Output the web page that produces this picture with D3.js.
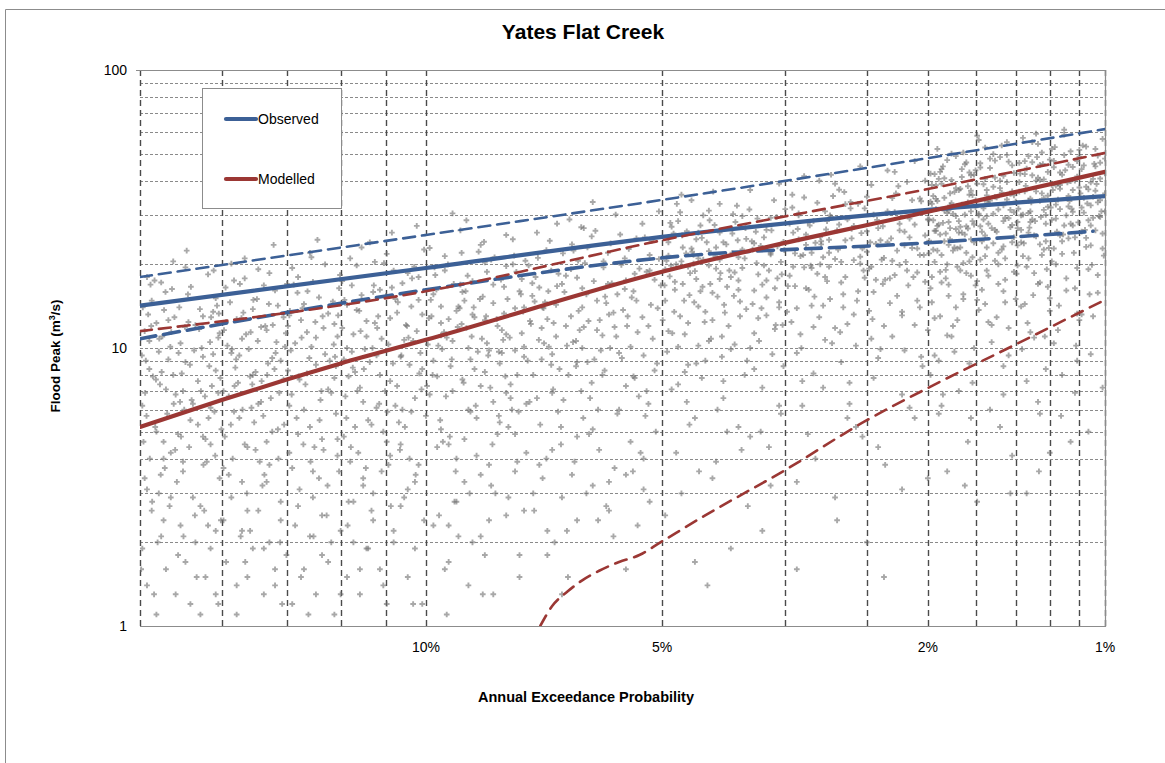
<!DOCTYPE html>
<html>
<head>
<meta charset="utf-8">
<script src="https://cdn.jsdelivr.net/npm/d3@7"></script>
<style>
  html, body { margin: 0; padding: 0; background: #fff; }
  svg { display: block; font-family: "Liberation Sans", Arial, sans-serif; }
</style>
</head>
<body>
<svg id="chart" width="1165" height="763"></svg>
<script>
// ---- Chart text ----
const chartTitle = "Yates Flat Creek";
const xTitle = "Annual Exceedance Probability";
const legendNames = ["Observed", "Modelled"];

// ---- Axes ----
const yTickValues = [1, 10, 100];
const xTickAep = [10, 5, 2, 1];                               // labelled AEP (%)
const xGridAri = [5, 6, 7, 8, 9, 10, 20, 30, 40, 50, 60, 70, 80, 90, 100]; // vertical grid (ARI, years)

// ---- Flood frequency curves: AEP (%) and peak (m3/s) ----
const obsAep   = [20, 10, 5, 2, 1];
const obsMean  = [14.2, 19.4, 25.1, 31.4, 35.2];
const obsUpAep = [20, 10, 5, 2, 1];
const obsUpper = [18.0, 25.5, 34.1, 48.2, 61.3];
const obsLoAep = [20, 10, 5, 2, 1.05];
const obsLower = [10.8, 16.2, 21.1, 23.9, 26.3];

const modAep   = [20, 16.67, 14.29, 12.5, 10, 5, 2, 1];
const modMean  = [5.2, 6.5, 7.7, 8.8, 10.7, 18.8, 30.9, 43.0];
const modUpAep = [20, 10, 5, 2, 1];
const modUpper = [11.5, 16.0, 24.4, 37.3, 50.3];
const modLoAep = [7.25, 7.0, 6.69, 6.4, 6.08, 5.72, 5.37, 5.04, 4.34, 3.33, 2.5, 2.0, 1.43, 1.0];
const modLower = [1.0, 1.18, 1.33, 1.46, 1.58, 1.70, 1.80, 1.99, 2.51, 3.64, 5.5, 7.18, 10.3, 14.9];

// ---- Simulated flood peaks: "AEP(%) peak(m3/s)" pairs ----
const simBand1 = "19.9 6.2,19.8 11.5,19.7 3.1,19.6 8.4,19.5 14.8,19.4 1.3,19.3 5.0,19.2 9.7,19.1 17.2,19.0 2.4,18.9 7.1,18.8 12.6,18.7 4.2,18.6 20.5,18.5 6.8,18.4 1.8,18.3 10.4,18.2 3.6,18.1 8.9,18.0 15.6,17.9 5.5,17.8 2.9,17.7 12.1,17.6 7.6,17.5 1.1,17.4 9.3,17.3 4.7,17.2 18.4,17.1 6.1,17.0 13.5,16.9 2.2,16.8 10.9,19.85 4.6,19.65 13.2,19.45 7.9,19.25 2.0,19.05 11.0,18.85 5.8,18.65 16.3,18.45 3.3,18.25 8.1,18.05 22.4,17.85 6.5,17.65 1.5,17.45 10.0,17.25 3.9,17.05 7.3,16.85 14.2,19.75 9.0,19.35 5.2,18.95 3.7,18.55 12.9,18.15 6.0,17.75 9.8,17.35 2.6,16.95 5.9,19.55 16.9,19.15 7.4,18.75 2.7,18.35 14.0,17.95 4.4,17.55 11.7,17.15 8.6,16.75 3.4,19.95 1.6,19.0 4.0,18.1 19.5,17.0 9.5,16.8 6.9,19.6 10.6,18.6 8.0,17.6 5.3,16.9 15.1,19.3 12.3,18.4 4.9,17.4 13.0,16.75 11.3,19.2 3.0,18.2 7.0,17.2 2.3,16.8 1.2,19.7 18.0,18.8 9.1,17.8 6.3,17.1 4.5,16.9 8.3";
const simBand2 = "16.6 7.0,16.5 12.4,16.4 3.5,16.3 9.6,16.2 17.5,16.1 1.4,16.0 5.6,15.9 10.8,15.8 21.0,15.7 2.6,15.6 7.9,15.5 13.8,15.4 4.3,15.3 19.2,15.2 6.4,15.1 1.9,15.0 11.6,14.9 3.8,14.8 9.2,14.7 16.1,14.6 5.1,14.5 2.8,14.4 12.9,16.55 4.8,16.35 14.6,16.15 8.5,15.95 2.1,15.75 11.2,15.55 6.1,15.35 15.0,15.15 3.2,14.95 8.8,14.75 23.5,14.55 6.9,14.45 1.2,16.45 10.2,16.25 4.0,16.05 7.5,15.85 13.4,15.65 9.9,15.45 5.4,15.25 3.9,15.05 12.0,14.85 6.6,14.65 10.5,16.6 2.4,16.2 5.9,15.8 17.8,15.4 8.2,15.0 4.6,14.6 14.2,16.4 6.7,16.0 9.4,15.6 2.2,15.2 11.9,14.8 5.0,14.4 7.7,16.3 20.1,15.9 3.3,15.5 8.0,15.1 16.8,14.7 1.6,14.35 10.1,16.1 12.7,15.7 4.4,15.3 6.3,14.9 18.6,14.5 9.0";
const simBand3 = "14.25 8.3,14.2 13.1,14.1 3.7,14.0 10.4,13.9 18.0,13.8 1.5,13.7 6.0,13.6 11.4,13.5 22.0,13.4 2.9,13.3 8.7,13.2 15.2,13.1 4.7,13.0 20.0,12.9 7.1,12.8 2.0,12.7 12.2,12.6 4.1,14.15 9.8,14.05 16.9,13.95 5.6,13.85 3.1,13.75 13.9,13.65 7.4,13.55 1.1,13.45 10.1,13.35 4.4,13.25 24.5,13.15 6.5,13.05 11.8,12.95 2.5,12.85 9.0,12.75 14.7,12.65 5.8,12.55 16.4,14.2 6.2,14.0 2.3,13.8 12.6,13.6 8.1,13.4 17.3,13.2 3.4,13.0 9.5,12.8 6.9,12.6 11.0,14.1 19.4,13.9 4.9,13.7 14.4,13.5 5.2,13.3 10.9,13.1 1.8,12.9 13.3,12.7 7.8,12.55 3.6,14.25 12.0,13.85 7.7,13.45 21.2,13.05 4.3,12.65 8.6,12.5 1.3";
const simBand4 = "12.4 9.1,12.3 14.3,12.2 3.9,12.1 11.2,12.0 19.8,11.9 1.6,11.8 6.4,11.7 12.5,11.6 24.0,11.5 3.0,11.4 9.4,11.3 16.2,11.2 5.0,11.1 21.8,11.0 7.6,10.9 2.2,10.8 13.4,10.7 4.5,10.6 10.7,10.5 18.6,10.4 5.9,10.3 3.3,10.2 14.9,10.1 8.4,12.35 6.7,12.15 16.8,11.95 4.2,11.75 9.9,11.55 2.6,11.35 13.0,11.15 7.0,10.95 26.0,10.75 5.4,10.55 12.1,10.35 1.2,10.15 9.6,12.45 11.8,12.25 2.8,12.05 8.2,11.85 15.5,11.65 5.5,11.45 20.4,11.25 3.6,11.05 10.3,10.85 6.2,10.65 17.1,10.45 4.0,10.25 11.5,10.05 22.6,12.4 4.8,12.0 13.7,11.6 8.9,11.2 1.4,10.8 7.3,10.4 14.1,10.0 5.7,12.2 21.0,11.8 3.4,11.4 6.1,11.0 12.8,10.6 2.9,10.2 18.0,12.3 10.0,11.9 7.2,11.5 15.9,11.1 4.6,10.7 9.3,10.3 6.6,12.1 2.0,11.7 11.0,11.3 8.0,10.9 19.0,10.5 3.1,10.1 13.2,12.45 17.4,12.05 5.2,11.65 1.9,11.25 10.8,10.85 15.0,10.45 8.7,10.05 2.4,12.25 7.9,11.85 23.0,11.45 12.3,11.05 3.8,10.65 6.0,10.25 27.5,12.15 9.7,11.55 5.3,10.95 16.5,10.35 10.6";
const simBand5 = "9.95 10.3,9.8 15.6,9.7 4.4,9.6 12.3,9.5 21.4,9.4 1.7,9.3 7.0,9.2 13.6,9.1 26.5,9.0 3.3,8.9 10.0,8.8 17.4,8.7 5.6,8.6 23.5,8.5 8.2,8.4 2.4,8.3 14.5,8.2 4.9,8.1 11.6,8.0 19.7,7.9 6.6,7.8 3.6,7.7 16.0,7.6 9.3,9.9 6.8,9.75 18.3,9.55 4.6,9.45 10.9,9.25 2.8,9.15 14.1,9.05 7.7,8.95 28.8,8.85 5.9,8.75 12.9,8.55 1.3,8.45 10.4,8.35 20.8,8.25 3.0,8.15 8.8,8.05 16.6,7.95 5.2,7.85 24.6,7.75 3.9,7.65 11.3,7.55 6.3,9.85 13.0,9.65 2.5,9.35 8.6,9.1 16.9,8.9 6.0,8.65 22.2,8.4 3.8,8.2 12.0,7.9 7.4,7.7 1.5,9.9 22.9,9.6 5.1,9.3 10.6,9.0 14.8,8.7 4.1,8.45 18.8,8.1 9.6,7.8 13.9,7.55 4.2,9.7 7.9,9.4 12.7,9.15 2.1,8.85 9.1,8.55 15.3,8.3 6.4,8.0 25.5,7.75 8.0,9.5 19.0,9.2 4.0,8.95 11.8,8.6 7.3,8.35 3.2,8.05 13.3,7.85 20.0,7.6 10.1,9.8 9.0,9.45 1.1,9.05 15.9,8.75 8.4,8.5 12.6,8.15 5.4,7.95 2.9,7.65 17.7,9.3 30.5,8.8 2.0,8.4 9.8,8.0 6.9,7.6 14.0,9.6 11.1,9.0 4.7,8.5 20.3";
const simBand6 = "7.45 12.2,7.35 18.0,7.25 5.3,7.15 14.6,7.05 24.3,6.95 2.0,6.85 8.4,6.75 15.9,6.65 29.0,6.55 3.9,6.45 11.6,6.35 20.2,6.25 6.6,6.15 26.4,6.05 9.8,5.95 2.7,5.85 17.1,5.75 5.8,5.65 13.7,5.55 22.7,5.45 7.8,5.35 4.2,5.25 18.8,5.15 10.8,5.05 31.0,7.4 8.0,7.3 21.1,7.2 3.4,7.1 12.7,7.0 6.9,6.9 16.7,6.8 1.3,6.7 10.2,6.6 23.6,6.5 4.8,6.4 14.0,6.3 8.9,6.2 33.5,6.1 6.0,6.0 19.5,5.9 3.3,5.8 11.9,5.7 25.6,5.6 7.3,5.5 15.2,5.4 2.3,5.3 9.4,5.2 21.6,5.1 5.0,7.42 15.4,7.22 9.1,7.02 19.0,6.82 4.5,6.62 13.0,6.42 27.2,6.22 7.5,6.02 11.1,5.82 2.1,5.62 16.3,5.42 24.8,5.22 6.3,7.32 26.0,7.12 4.0,6.92 11.0,6.72 18.2,6.52 8.6,6.32 3.0,6.12 14.8,5.92 22.0,5.72 9.6,5.52 4.6,5.32 12.9,5.12 17.6,7.38 2.6,7.18 13.9,6.98 7.1,6.78 21.9,6.58 10.5,6.38 5.6,6.18 17.4,5.98 8.3,5.78 30.2,5.58 12.0,5.38 6.7,5.18 14.3,7.28 10.7,7.08 16.0,6.88 5.9,6.68 1.5,6.48 20.6,6.28 12.5,6.08 4.3,5.88 10.0,5.68 19.9,5.48 3.6,5.28 25.0,5.08 8.8,7.48 6.4,6.9 28.0,6.4 16.4,5.9 13.2,5.4 11.4,5.05 20.9,7.1 1.8,6.6 3.5,6.1 2.4,5.6 1.6,5.2 2.8,6.3 23.0,5.75 15.6,5.25 7.0,7.0 9.5,6.5 17.9,5.95 14.5,5.45 18.5";
const simBand7 = "4.95 14.8,4.9 21.5,4.85 7.1,4.8 17.3,4.75 28.6,4.7 3.0,4.65 11.2,4.6 19.6,4.55 34.0,4.5 5.6,4.45 14.1,4.4 24.9,4.35 9.0,4.3 31.2,4.25 12.6,4.2 3.9,4.15 20.8,4.1 7.6,4.05 16.6,4.0 26.9,3.95 10.3,3.9 5.2,3.85 22.6,3.8 13.8,3.75 37.0,3.7 8.4,3.65 18.4,3.6 2.2,3.55 15.2,3.5 29.4,3.45 11.7,3.4 6.2,3.35 24.1,4.92 9.7,4.82 25.8,4.72 13.0,4.62 6.4,4.52 20.1,4.42 16.0,4.32 1.4,4.22 27.7,4.12 11.0,4.02 19.0,3.92 32.5,3.82 8.0,3.72 14.4,3.62 23.3,3.52 4.4,3.42 17.8,3.36 12.1,4.88 18.1,4.78 4.2,4.68 23.0,4.58 15.5,4.48 8.8,4.38 30.0,4.28 17.0,4.18 6.0,4.08 13.4,3.98 22.0,3.88 14.7,3.78 2.7,3.68 26.2,3.58 19.8,3.48 9.5,3.38 20.4,4.9 11.5,4.7 35.6,4.5 18.9,4.3 10.6,4.1 24.0,3.9 17.5,3.7 11.3,3.5 21.7,3.4 39.0,4.85 27.3,4.65 8.2,4.45 21.0,4.25 15.8,4.05 5.0,3.85 29.8,3.65 12.8,3.45 16.4,4.95 2.5,4.6 12.3,4.4 7.8,4.2 19.3,4.0 9.9,3.8 24.7,3.6 7.2,3.4 14.0,4.8 16.2,4.55 22.8,4.35 13.5,4.15 33.0,3.95 18.7,3.75 10.0,3.55 26.6,3.35 8.6,4.75 10.1,4.5 1.7,4.25 3.4,4.0 1.9,3.75 4.8,3.5 3.2,3.38 5.8,4.7 20.5,4.3 22.3,3.9 21.2,3.6 16.9,4.95 19.2,4.15 17.7,3.7 23.8,4.45 26.0,3.55 13.1";
const simBand8 = "3.28 18.2,3.24 26.0,3.2 9.6,3.16 21.4,3.12 34.8,3.08 4.9,3.04 14.2,3.0 23.9,2.96 40.0,2.92 7.2,2.88 17.4,2.84 29.6,2.8 11.8,2.76 37.1,2.72 15.6,2.68 5.6,2.64 24.8,2.6 10.2,2.56 20.1,2.52 31.8,2.48 13.6,2.44 7.8,2.4 27.0,2.36 17.0,2.32 43.5,2.28 11.0,2.24 22.4,2.2 3.1,2.16 19.0,2.12 34.0,2.08 14.8,2.04 8.6,3.26 12.4,3.18 30.5,3.1 16.4,3.02 8.1,2.94 24.2,2.86 19.6,2.78 2.4,2.7 32.9,2.62 13.2,2.54 22.8,2.46 38.6,2.38 9.9,2.3 17.8,2.22 28.0,2.14 6.1,2.06 21.6,3.22 21.9,3.14 6.2,3.06 27.6,2.98 18.5,2.9 10.7,2.82 35.2,2.74 20.4,2.66 7.5,2.58 16.0,2.5 26.3,2.42 17.6,2.34 3.8,2.26 30.8,2.18 23.4,2.1 12.1,2.02 25.4,3.2 13.9,3.12 41.5,3.04 22.0,2.96 12.9,2.88 28.6,2.8 20.9,2.72 14.0,2.64 26.8,2.56 45.0,2.48 19.3,2.4 9.2,2.32 24.0,2.24 15.4,2.16 39.6,2.08 18.7,2.0 29.0,3.25 32.0,3.15 10.0,3.05 19.8,2.95 25.1,2.85 15.0,2.75 11.4,2.65 33.5,2.55 25.9,2.45 12.7,2.35 21.1,2.25 36.0,2.15 16.8,2.05 9.3,3.3 16.7,3.1 23.5,2.9 31.0,2.7 18.0,2.5 22.2,2.3 14.5,2.1 27.8,3.0 4.0,2.8 2.9,2.6 5.2,2.4 4.4,2.2 6.8,2.0 3.4,3.2 1.6,2.5 2.0,2.35 1.5,3.08 28.4,2.86 24.5,2.62 20.7,2.44 30.2,2.22 19.9,2.06 34.5,3.18 24.6,2.92 21.2,2.68 29.0,2.42 23.7,2.18 26.2,2.02 17.3,3.12 19.5,2.78 26.5,2.52 17.9,2.28 20.6,2.1 47.0,2.84 42.0,2.36 27.4,2.12 22.9,3.02 11.9,2.74 8.9,2.46 10.8,2.2 13.1,2.0 11.6";
const simBand9 = "1.99 24.3,1.97 33.0,1.95 12.8,1.93 27.5,1.91 43.0,1.89 6.8,1.87 19.1,1.85 31.2,1.83 50.0,1.81 9.7,1.79 22.8,1.77 37.4,1.75 15.6,1.73 46.5,1.71 20.5,1.69 7.5,1.67 32.1,1.65 13.7,1.63 26.2,1.61 40.6,1.59 18.2,1.57 10.5,1.55 35.0,1.53 22.0,1.51 53.5,1.49 14.6,1.47 29.3,1.45 4.1,1.44 25.0,1.98 16.4,1.94 38.5,1.9 21.6,1.86 11.1,1.82 30.4,1.78 26.0,1.74 3.2,1.7 41.8,1.66 17.4,1.62 29.0,1.58 48.0,1.54 12.9,1.5 23.2,1.46 35.8,1.96 28.8,1.92 9.0,1.88 34.7,1.84 24.6,1.8 14.0,1.76 44.0,1.72 26.9,1.68 10.0,1.64 20.8,1.6 33.6,1.56 23.8,1.52 5.2,1.48 39.5,1.44 30.8,1.97 18.0,1.93 52.0,1.89 28.2,1.85 16.9,1.81 36.4,1.77 27.3,1.73 18.6,1.69 35.5,1.65 56.0,1.61 25.4,1.57 12.1,1.53 31.5,1.49 21.0,1.45 45.4,1.95 42.2,1.91 13.0,1.87 25.8,1.83 33.2,1.79 19.6,1.75 15.0,1.71 42.8,1.67 34.0,1.63 16.2,1.59 28.0,1.55 47.2,1.51 22.6,1.47 11.8,1.99 21.9,1.94 31.6,1.9 39.0,1.85 23.5,1.8 29.8,1.75 20.2,1.7 36.8,1.65 30.0,1.6 19.0,1.55 26.6,1.5 32.6,1.45 27.7,1.98 8.0,1.92 5.8,1.86 3.6,1.78 7.0,1.72 4.6,1.66 2.8,1.58 6.0,1.5 8.6,1.46 3.0,1.96 35.2,1.88 40.8,1.8 37.6,1.72 38.2,1.64 44.6,1.56 38.0,1.48 49.5,1.93 22.4,1.84 27.0,1.76 32.8,1.68 24.0,1.6 37.0,1.52 40.0,1.44 18.8,1.95 26.4,1.86 20.0,1.77 23.0,1.69 28.6,1.61 21.4,1.53 17.0,1.45 36.6,1.9 17.2,1.82 12.0,1.74 25.6,1.66 14.9,1.58 33.9,1.5 16.0";
const simBand10 = "1.42 27.0,1.41 36.5,1.4 14.1,1.39 30.2,1.38 47.0,1.37 7.6,1.36 21.0,1.35 34.5,1.34 55.0,1.33 10.9,1.32 25.2,1.31 41.0,1.3 17.2,1.29 50.5,1.28 22.6,1.27 8.4,1.26 35.3,1.25 15.1,1.24 28.9,1.23 44.7,1.22 20.0,1.21 11.6,1.2 38.6,1.19 24.2,1.18 58.5,1.17 16.1,1.16 32.3,1.15 4.6,1.14 27.6,1.13 40.0,1.12 19.4,1.11 48.8,1.1 13.2,1.09 30.7,1.08 23.1,1.07 37.2,1.06 9.5,1.05 29.4,1.04 52.0,1.03 18.3,1.02 34.0,1.01 25.8,1.0 42.5,1.425 18.5,1.405 42.4,1.385 23.8,1.365 12.3,1.345 33.4,1.325 28.6,1.305 3.6,1.285 45.9,1.265 19.2,1.245 32.0,1.225 52.8,1.205 14.2,1.185 25.6,1.165 39.4,1.145 31.7,1.125 10.2,1.105 36.0,1.085 26.6,1.065 15.6,1.045 46.0,1.025 29.8,1.005 21.5,1.415 31.7,1.395 9.9,1.375 38.3,1.355 27.1,1.335 15.5,1.315 48.6,1.295 29.6,1.275 11.0,1.255 22.9,1.235 37.0,1.215 26.2,1.195 5.7,1.175 43.6,1.155 33.8,1.135 22.0,1.115 28.3,1.095 53.5,1.075 33.1,1.055 19.9,1.035 38.9,1.015 31.0,1.42 19.8,1.39 57.0,1.36 30.6,1.33 18.6,1.3 40.2,1.27 30.1,1.24 20.5,1.21 39.0,1.18 61.0,1.15 28.0,1.12 13.3,1.09 34.7,1.06 23.4,1.03 49.2,1.0 36.0,1.41 46.3,1.38 14.4,1.35 28.4,1.32 36.6,1.29 21.6,1.26 16.6,1.23 47.1,1.2 37.4,1.17 17.8,1.14 30.9,1.11 51.6,1.08 24.9,1.05 13.0,1.02 40.7,1.4 24.0,1.34 41.8,1.28 34.6,1.22 32.8,1.16 24.8,1.1 44.0,1.04 26.5,1.37 3.0,1.31 6.4,1.25 4.2,1.19 8.0,1.13 6.9,1.07 5.0,1.01 7.2,1.36 26.0,1.26 43.0,1.16 45.6,1.06 32.6,1.3 23.6";
const simBand11 = "19.92 9.4,19.72 5.7,19.52 12.0,19.32 7.7,19.12 3.5,18.92 15.9,18.72 10.1,18.52 4.3,18.32 6.4,18.12 11.9,17.92 8.7,17.72 2.5,17.52 13.8,17.32 6.7,17.12 10.5,16.92 4.1,16.72 7.8,16.52 16.5,16.32 5.3,16.12 9.1,15.92 12.8,15.72 3.0,15.52 7.4,15.32 10.6,15.12 5.7,14.92 14.4,14.72 8.4,14.52 2.0,14.32 11.3,14.12 6.8,13.92 15.8,13.72 4.5,13.52 9.2,13.32 12.4,13.12 7.0,12.92 3.2,12.72 10.3,12.52 18.3,12.32 5.6,12.12 8.5,11.92 13.6,11.72 3.7,11.52 10.0,11.32 6.3,11.12 15.4,10.92 8.8,10.72 4.3,10.52 12.0,10.32 19.6,10.12 7.1,19.88 14.0,19.48 2.8,19.08 8.2,18.68 11.4,18.28 4.8,17.88 16.6,17.48 7.0,17.08 12.9,16.68 5.1,16.28 9.9,15.88 6.0,15.48 14.9,15.08 3.5,14.68 9.6,14.28 17.0,13.88 7.9,13.48 3.9,13.08 13.0,12.68 9.3,12.28 2.3,11.88 11.5,11.48 16.8,11.08 5.9,10.68 9.4,10.28 3.5,19.78 6.9,19.18 10.8,18.58 6.3,17.98 12.4,17.38 3.8,16.78 13.3,16.18 7.3,15.58 11.4,14.98 8.0,14.38 5.3,13.78 10.9,13.18 5.5,12.58 13.1,11.98 7.0,11.38 11.8,10.78 14.6,10.18 8.1,19.58 4.0,18.38 9.6,17.18 5.6,15.98 17.0,14.78 12.1,13.58 16.0,12.38 14.9,11.18 20.2,10.58 5.2,19.38 17.5,18.18 2.1,16.98 19.0,15.78 1.7,14.58 4.0,13.38 2.1,12.18 4.4,10.98 2.7,10.38 17.8,18.98 13.7,16.58 11.6,14.18 13.6,11.78 8.4,10.48 10.9,15.18 7.6";
const simBand12 = "9.92 12.8,9.82 8.0,9.72 16.2,9.62 5.5,9.52 11.4,9.42 20.0,9.32 9.1,9.22 3.6,9.12 13.9,9.02 7.5,8.92 18.2,8.82 11.0,8.72 6.2,8.62 15.0,8.52 24.1,8.42 9.4,8.32 4.5,8.22 12.7,8.12 17.6,8.02 7.9,7.92 10.9,7.82 21.5,7.72 5.9,7.62 13.5,7.52 9.0,7.42 17.1,7.32 6.6,7.22 11.8,7.12 22.5,7.02 8.7,6.92 14.3,6.82 5.2,6.72 12.0,6.62 19.2,6.52 10.6,6.42 7.0,6.32 15.6,6.22 25.2,6.12 11.6,6.02 8.0,5.92 17.0,5.82 13.4,5.72 6.0,5.62 21.0,5.52 10.1,5.42 14.8,5.32 28.0,5.22 12.0,5.12 8.3,5.02 16.8,9.87 14.9,9.67 10.2,9.47 6.7,9.27 17.0,9.07 12.2,8.87 3.0,8.67 9.7,8.47 13.0,8.27 21.2,8.07 10.7,7.87 6.0,7.67 15.6,7.47 12.5,7.27 3.8,7.07 10.1,6.87 18.5,6.67 8.0,6.47 13.6,6.27 4.9,6.07 12.6,5.87 23.8,5.67 9.2,5.47 16.0,5.27 5.7,5.07 13.9,9.77 19.5,9.37 4.8,8.97 16.0,8.57 10.8,8.17 5.7,7.77 18.8,7.37 14.7,6.97 12.3,6.57 22.4,6.17 9.1,5.77 11.0,5.37 19.3,9.57 9.9,9.17 11.9,8.77 14.0,8.37 7.2,7.97 15.0,7.57 20.6,7.17 10.4,6.77 6.5,6.37 11.9,5.97 15.3,5.57 13.0,5.17 24.3,9.97 7.3,9.07 22.0,8.17 9.7,7.27 16.5,6.37 27.0,5.47 7.9,9.4 2.3,8.5 1.8,7.6 2.6,6.7 2.2,5.8 3.7,5.3 3.1,9.6 14.1,8.8 13.2,8.0 11.2,7.2 14.0,6.4 10.0,5.6 17.5,5.2 19.0,8.3 16.9,7.5 19.8,6.8 17.0,6.0 20.5,7.8 9.8,6.5 8.9";
const simBand13 = "4.96 16.8,4.9 24.0,4.84 11.3,4.78 20.0,4.72 30.8,4.66 14.8,4.6 8.7,4.54 22.2,4.48 17.7,4.42 27.6,4.36 12.4,4.3 19.8,4.24 36.5,4.18 15.3,4.12 9.3,4.06 23.6,4.0 18.0,3.94 28.4,3.88 13.0,3.82 21.0,3.76 31.5,3.7 16.1,3.64 10.6,3.58 25.0,3.52 19.0,3.46 34.0,3.4 14.6,3.34 22.5,3.28 28.0,3.22 16.7,3.16 11.2,3.1 25.6,3.04 19.4,2.98 33.3,2.92 14.2,2.86 22.0,2.8 39.0,2.74 17.2,2.68 12.2,2.62 27.5,2.56 21.3,2.5 35.0,2.44 15.9,2.38 24.4,2.32 31.0,2.26 18.3,2.2 13.5,2.14 29.2,2.08 22.8,2.02 40.0,4.93 20.6,4.81 13.5,4.69 25.4,4.57 18.6,4.45 10.2,4.33 24.0,4.21 21.4,4.09 14.3,3.97 30.3,3.85 19.4,3.73 24.2,3.61 13.9,3.49 26.5,3.37 18.4,3.25 35.6,3.13 21.6,3.01 15.3,2.89 26.7,2.77 22.6,2.65 31.8,2.53 19.0,2.41 28.9,2.29 24.8,2.17 20.4,2.05 33.7,4.87 28.2,4.63 21.9,4.39 16.6,4.15 26.0,3.91 24.4,3.67 20.2,3.43 29.6,3.19 26.8,2.95 20.0,2.71 36.4,2.47 24.0,2.23 38.2,4.75 7.4,4.27 10.8,3.79 9.0,3.31 13.5,2.83 10.4,2.35 12.0,4.99 12.6,4.51 14.6,4.03 12.0,3.55 17.5,3.07 16.2,2.59 14.8,2.11 18.0,4.77 33.0,4.29 28.8,3.81 27.0,3.33 31.6,2.85 30.0,2.37 20.8,2.03 21.6,4.68 17.0,4.2 23.0,3.72 22.6,3.24 19.6,2.76 27.8,2.28 34.6,4.58 5.3,4.1 6.6,3.62 5.0,3.14 7.6,2.66 6.3,2.18 9.8,4.44 3.6,3.86 4.3,3.2 3.3,2.54 4.8,2.1 5.6,4.86 19.8,4.38 20.8,3.9 16.2,3.42 23.2,2.94 23.6,2.46 19.6,2.14 25.0,4.62 26.3,4.14 18.6,3.66 29.2,3.18 30.0,2.7 24.4,2.22 26.5,2.06 14.0,4.48 24.6,3.98 25.8,3.5 22.0,3.02 28.6,2.58 33.0,2.26 43.0,2.34 17.6,2.9 18.0,3.44 12.1,3.96 15.4,4.52 21.6";
const simBand14 = "1.99 29.0,1.97 38.6,1.95 20.4,1.93 33.8,1.91 25.6,1.89 45.0,1.87 17.8,1.85 28.4,1.83 40.2,1.81 23.0,1.79 32.4,1.77 19.0,1.75 50.5,1.73 27.4,1.71 35.6,1.69 21.2,1.67 43.6,1.65 30.4,1.63 24.2,1.61 52.6,1.59 33.0,1.57 27.0,1.55 41.0,1.53 20.0,1.51 36.2,1.49 29.4,1.47 46.8,1.45 24.0,1.43 33.6,1.41 39.5,1.39 21.4,1.37 44.2,1.35 31.0,1.33 25.4,1.31 54.2,1.29 36.0,1.27 28.0,1.25 47.6,1.23 22.8,1.21 34.2,1.19 42.0,1.17 30.0,1.15 51.0,1.13 25.0,1.11 37.8,1.09 45.4,1.07 28.8,1.05 40.6,1.03 33.4,1.01 56.5,1.98 33.6,1.94 26.4,1.9 44.0,1.86 30.6,1.82 22.4,1.78 37.0,1.74 30.2,1.7 24.6,1.66 39.0,1.62 31.8,1.58 44.4,1.54 26.2,1.5 41.6,1.46 31.4,1.42 23.4,1.38 36.6,1.34 29.0,1.3 45.6,1.26 32.2,1.22 38.4,1.18 27.6,1.14 44.8,1.1 32.0,1.06 39.4,1.02 29.6,1.96 22.6,1.92 40.6,1.88 31.2,1.84 36.0,1.8 26.8,1.76 41.2,1.72 33.4,1.68 27.8,1.64 46.2,1.6 35.4,1.56 30.4,1.52 48.6,1.48 34.2,1.44 42.6,1.4 30.0,1.36 49.0,1.32 40.0,1.28 31.4,1.24 52.0,1.2 42.8,1.16 35.2,1.12 47.0,1.08 38.0,1.04 45.0,1.0 31.0,1.97 14.6,1.91 18.8,1.85 15.4,1.79 12.6,1.73 22.0,1.67 16.8,1.61 14.4,1.55 20.6,1.49 17.6,1.43 15.0,1.37 19.6,1.31 17.0,1.25 13.6,1.19 21.8,1.13 16.4,1.07 19.2,1.01 22.8,1.95 9.4,1.83 11.0,1.71 8.8,1.59 12.4,1.47 9.4,1.35 11.4,1.23 10.4,1.11 12.6,1.03 15.8,1.9 6.2,1.7 5.6,1.5 6.8,1.3 5.8,1.12 9.0,1.94 34.4,1.86 47.4,1.78 28.6,1.7 31.0,1.62 38.8,1.54 34.8,1.46 27.2,1.38 42.2,1.3 33.8,1.22 29.2,1.14 37.0,1.06 27.6,1.0 48.0,1.92 27.8,1.84 32.6,1.76 26.0,1.68 42.0,1.6 29.8,1.52 37.6,1.44 35.4,1.36 33.8,1.28 40.4,1.2 25.4,1.12 41.4,1.04 36.8,1.98 42.4,1.88 24.2,1.74 45.8,1.64 27.4,1.56 49.8,1.42 28.4,1.34 46.6,1.24 38.6,1.15 39.8,1.05 35.0,1.8 49.0,1.66 58.0,1.48 55.0,1.32 59.0,1.18 49.4,1.08 53.0,1.02 46.4,1.6 23.0,1.4 26.6,1.2 31.6,1.1 26.2,1.7 18.2,1.5 28.6,1.27 24.2";
const simBand15 = "19.9 1.9,19.7 1.4,19.5 2.6,19.3 1.1,19.1 2.1,18.9 1.6,18.7 2.9,18.5 1.3,18.3 2.3,18.1 1.7,17.9 1.2,17.7 2.0,17.5 2.7,17.3 1.5,17.1 1.9,16.9 1.3,16.7 2.4,16.5 1.7,16.3 2.9,16.1 1.1,15.9 2.2,15.7 1.5,15.5 1.9,15.3 2.6,15.1 1.3,14.9 2.0,14.7 1.4,14.5 2.4,14.3 1.8,14.1 1.2,13.9 2.7,13.7 1.6,13.5 2.1,13.3 1.3,13.1 2.5,12.9 1.7,12.7 1.1,12.5 2.2,12.3 1.5,12.1 2.8,11.9 1.3,11.7 1.9,11.5 2.4,11.3 1.6,11.1 1.2,10.9 2.0,10.7 2.7,10.5 1.5,10.3 1.9,10.1 1.2,9.8 2.3,9.5 1.6,9.2 2.8,8.9 1.4,8.6 2.1,8.3 1.3,8.0 2.5,7.7 1.8,7.4 3.0,7.1 2.2,6.8 2.9,6.5 2.4,6.2 3.2,5.9 2.6,5.6 3.5,5.3 4.0,19.8 3.4,19.0 4.6,18.2 3.9,17.4 4.8,16.6 3.7,15.8 4.5,15.0 3.3,14.2 4.2,13.4 3.6,12.6 4.7,11.8 3.2,11.0 4.1,10.2 3.8,9.4 4.5,8.6 3.5,7.8 4.9,7.0 4.3,6.2 5.1";

// ---- Colours ----
const blue = "#3c6096";
const red = "#9b3734";

// Inverse standard normal CDF (Acklam) for the probability-paper x axis
function probit(p) {
  const a = [-3.969683028665376e+01, 2.209460984245205e+02, -2.759285104469687e+02, 1.383577518672690e+02, -3.066479806614716e+01, 2.506628277459239e+00];
  const b = [-5.447609879822406e+01, 1.615858368580409e+02, -1.556989798598866e+02, 6.680131188771972e+01, -1.328068155288572e+01];
  const c = [-7.784894002430293e-03, -3.223964580411365e-01, -2.400758277161838e+00, -2.549732539343734e+00, 4.374664141464968e+00, 2.938163982698783e+00];
  const d = [7.784695709041462e-03, 3.224671290700398e-01, 2.445134137142996e+00, 3.754408661907416e+00];
  const pl = 0.02425;
  if (p < pl) {
    const q = Math.sqrt(-2 * Math.log(p));
    return (((((c[0]*q+c[1])*q+c[2])*q+c[3])*q+c[4])*q+c[5]) / ((((d[0]*q+d[1])*q+d[2])*q+d[3])*q+1);
  }
  if (p <= 1 - pl) {
    const q = p - 0.5, r = q * q;
    return (((((a[0]*r+a[1])*r+a[2])*r+a[3])*r+a[4])*r+a[5])*q / (((((b[0]*r+b[1])*r+b[2])*r+b[3])*r+b[4])*r+1);
  }
  const q = Math.sqrt(-2 * Math.log(1 - p));
  return -(((((c[0]*q+c[1])*q+c[2])*q+c[3])*q+c[4])*q+c[5]) / ((((d[0]*q+d[1])*q+d[2])*q+d[3])*q+1);
}
const zOfAep = aep => -probit(aep / 100);   // standard normal variate of the non-exceedance probability

// ---- Layout ----
const svg = d3.select("#chart");
const plot = { left: 140, right: 1105, top: 70, bottom: 626 };

const x = d3.scaleLinear().domain([zOfAep(20), zOfAep(1)]).range([plot.left, plot.right]);
const y = d3.scaleLog().domain([1, 100]).range([plot.bottom, plot.top]);
const px = aep => x(zOfAep(aep));

// Outer chart frame
svg.append("path").attr("d", "M5.5,763 L5.5,9.5 L1165,9.5")
  .attr("fill", "none").attr("stroke", "#8c8c8c").attr("stroke-width", 1);

svg.append("defs").append("clipPath").attr("id", "plotClip")
  .append("rect").attr("x", plot.left).attr("y", plot.top)
  .attr("width", plot.right - plot.left).attr("height", plot.bottom - plot.top);

// Horizontal grid (log minor lines)
const hGrid = [];
[1, 10].forEach(dec => { for (let k = 1; k <= 9; k++) { const v = dec * k; if (v > 1 && v < 100) hGrid.push(v); } });
svg.append("g").selectAll("line").data(hGrid).join("line")
  .attr("x1", plot.left).attr("x2", plot.right)
  .attr("y1", d => Math.round(y(d)) + 0.5).attr("y2", d => Math.round(y(d)) + 0.5)
  .attr("stroke", "#8a8a8a").attr("stroke-width", 1).attr("stroke-dasharray", "3,2");

// Vertical grid at ARI values
svg.append("g").selectAll("line").data(xGridAri).join("line")
  .attr("x1", d => Math.round(px(100 / d)) + 0.5).attr("x2", d => Math.round(px(100 / d)) + 0.5)
  .attr("y1", plot.top).attr("y2", plot.bottom)
  .attr("stroke", "#4a4a4a").attr("stroke-width", 1.4).attr("stroke-dasharray", "6,4");

// Plot frame: top, bottom and right edges
svg.append("path")
  .attr("d", `M${plot.left - 4},${plot.top + 0.5} L${plot.right + 0.5},${plot.top + 0.5} L${plot.right + 0.5},${plot.bottom + 0.5} L${plot.left},${plot.bottom + 0.5}`)
  .attr("fill", "none").attr("stroke", "#8c8c8c").attr("stroke-width", 1.2);

// Simulated peaks
const simPoints = [simBand1, simBand2, simBand3, simBand4, simBand5, simBand6, simBand7, simBand8,
                   simBand9, simBand10, simBand11, simBand12, simBand13, simBand14, simBand15]
  .flatMap(s => s.split(",").map(t => { const [a, v] = t.trim().split(" ").map(Number); return { aep: a, q: v }; }));
const cross = d3.symbol().type(d3.symbolCross).size(18);
svg.append("g").attr("clip-path", "url(#plotClip)")
  .selectAll("path").data(simPoints).join("path")
  .attr("d", cross)
  .attr("transform", d => `translate(${px(d.aep)},${y(d.q)})`)
  .attr("fill", "#6e6e6e").attr("fill-opacity", 0.6);

// Frequency curves
const line = d3.line().x(d => px(d[0])).y(d => y(d[1])).curve(d3.curveMonotoneX);
const zip = (a, b) => a.map((v, i) => [v, b[i]]);
const curves = [
  { pts: zip(obsUpAep, obsUpper), color: blue, width: 2.6, dash: "12,7" },
  { pts: zip(obsLoAep, obsLower), color: blue, width: 3.6, dash: "16,8" },
  { pts: zip(obsAep, obsMean),    color: blue, width: 4.2, dash: null },
  { pts: zip(modUpAep, modUpper), color: red,  width: 2.6, dash: "12,7" },
  { pts: zip(modLoAep, modLower), color: red,  width: 2.6, dash: "12,8" },
  { pts: zip(modAep, modMean),    color: red,  width: 4.2, dash: null }
];
const gCurves = svg.append("g").attr("clip-path", "url(#plotClip)");
curves.forEach(c => {
  gCurves.append("path").datum(c.pts).attr("d", line)
    .attr("fill", "none").attr("stroke", c.color).attr("stroke-width", c.width)
    .attr("stroke-dasharray", c.dash).attr("stroke-linecap", "round");
});

// Y axis labels
svg.append("g").selectAll("text").data(yTickValues).join("text")
  .attr("x", 127).attr("y", d => y(d) + 5)
  .attr("text-anchor", "end").attr("font-size", 14).attr("fill", "#000")
  .text(d => d3.format("d")(d));

// X axis labels
svg.append("g").selectAll("text").data(xTickAep).join("text")
  .attr("x", d => px(d)).attr("y", 652)
  .attr("text-anchor", "middle").attr("font-size", 14).attr("fill", "#000")
  .text(d => d + "%");

// Title and axis titles
svg.append("text").attr("x", 583).attr("y", 39).attr("text-anchor", "middle")
  .attr("font-size", 21).attr("font-weight", "bold").text(chartTitle);
svg.append("text").attr("x", 586).attr("y", 702).attr("text-anchor", "middle")
  .attr("font-size", 14.5).attr("font-weight", "bold").text(xTitle);
const yt = svg.append("text").attr("transform", "translate(60,356) rotate(-90)")
  .attr("text-anchor", "middle").attr("font-size", 13.5).attr("font-weight", "bold");
yt.append("tspan").text("Flood Peak (m");
yt.append("tspan").attr("font-size", 9).attr("dy", -5).text("3");
yt.append("tspan").attr("dy", 5).text("/s)");

// Legend
const lg = svg.append("g");
lg.append("rect").attr("x", 202.5).attr("y", 88.5).attr("width", 139).attr("height", 120)
  .attr("fill", "#fff").attr("stroke", "#8c8c8c").attr("stroke-width", 1);
[[blue, 119, 124], [red, 179, 184]].forEach(([col, ly, ty], i) => {
  lg.append("line").attr("x1", 226).attr("x2", 256).attr("y1", ly).attr("y2", ly)
    .attr("stroke", col).attr("stroke-width", 4.2).attr("stroke-linecap", "round");
  lg.append("text").attr("x", 258).attr("y", ty).attr("font-size", 14).text(legendNames[i]);
});
</script>
</body>
</html>
